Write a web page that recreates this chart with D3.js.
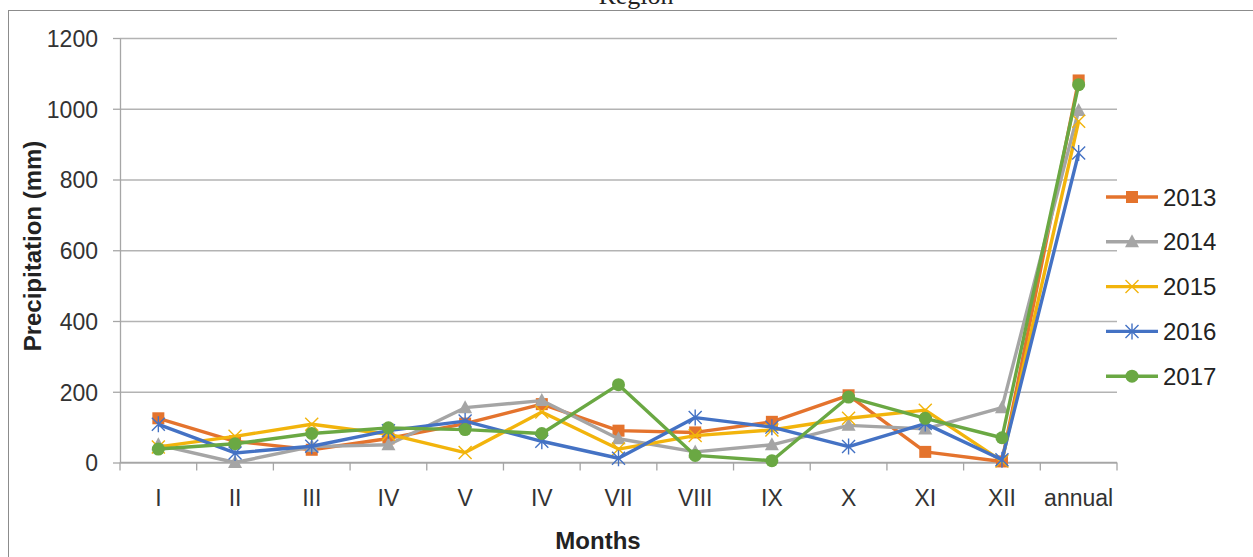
<!DOCTYPE html>
<html>
<head>
<meta charset="utf-8">
<script src="https://cdn.jsdelivr.net/npm/d3@7"></script>
<style>
  body { margin: 0; background: #fff; }
  text { font-family: "Liberation Sans", Arial, sans-serif; }
</style>
</head>
<body>
<svg id="chart"></svg>
<script>
var w = 1253, h = 557;
var margin = { top: 38, right: 136, bottom: 94, left: 120 };

// months on the x axis
var months = ["I", "II", "III", "IV", "V", "IV", "VII", "VIII", "IX", "X", "XI", "XII", "annual"];
var yTicks = [0, 200, 400, 600, 800, 1000, 1200];

// precipitation (mm) per year
var y2013 = [125, 60, 36, 68, 110, 165, 90, 85, 115, 190, 30, 3, 1080];
var y2014 = [50, 0, 45, 50, 155, 175, 67, 30, 50, 105, 95, 155, 995];
var y2015 = [44, 74, 108, 80, 28, 143, 38, 76, 92, 125, 148, 4, 965];
var y2016 = [108, 27, 46, 90, 117, 60, 12, 127, 100, 45, 110, 8, 875];
var y2017 = [38, 53, 82, 98, 93, 82, 220, 20, 5, 185, 125, 70, 1068];

var years = ["2013", "2014", "2015", "2016", "2017"];
var seriesData = [y2013, y2014, y2015, y2016, y2017];
var colors = ["#e4732d", "#a5a5a5", "#f2b40c", "#4472c4", "#6aa843"];
var shapes = ["square", "triangle", "x", "star", "circle"];

var svg = d3.select("#chart").attr("width", w).attr("height", h);

// outer frame (only top/left visible)
svg.append("line").attr("x1", 8).attr("x2", w).attr("y1", 10.5).attr("y2", 10.5)
  .attr("stroke", "#8c8c8c").attr("stroke-width", 1);
svg.append("line").attr("x1", 8.5).attr("x2", 8.5).attr("y1", 10).attr("y2", h)
  .attr("stroke", "#8c8c8c").attr("stroke-width", 1);

// title, cut off at the top like the source
svg.append("text").attr("x", 636).attr("y", 4)
  .attr("text-anchor", "middle")
  .style("font-family", "'Liberation Serif', 'Times New Roman', serif")
  .style("font-size", "26px")
  .attr("fill", "#222")
  .text("Region");

var x = d3.scaleBand()
  .domain(d3.range(months.length))
  .range([margin.left, w - margin.right]);

var y = d3.scaleLinear()
  .domain([0, 1200])
  .range([h - margin.bottom - 0.5, margin.top]);

// grid lines
svg.append("g")
  .attr("class", "grid")
  .attr("transform", "translate(" + margin.left + ",0)")
  .call(d3.axisLeft(y).tickValues(yTicks).tickSize(-(w - margin.right - margin.left)).tickFormat(""))
  .call(g => g.select(".domain").remove())
  .selectAll("line").attr("stroke", "#b3b3b3").attr("stroke-width", 1.3);

// y axis
var yAxis = svg.append("g")
  .attr("transform", "translate(" + margin.left + ",0)")
  .call(d3.axisLeft(y).tickValues(yTicks).tickFormat(d3.format("d"))
    .tickSize(7).tickPadding(15).tickSizeOuter(0));
yAxis.select(".domain").attr("stroke", "#a6a6a6").attr("stroke-width", 1.3);
yAxis.selectAll("line").attr("stroke", "#a6a6a6").attr("stroke-width", 1.3);
yAxis.selectAll("text").style("font-size", "23px").attr("fill", "#333").attr("dy", "0.36em");

// x axis: ticks at band boundaries
var xAxis = svg.append("g")
  .attr("transform", "translate(0," + y(0) + ")");
xAxis.append("line")
  .attr("x1", margin.left).attr("x2", w - margin.right)
  .attr("stroke", "#a6a6a6").attr("stroke-width", 1.3);
xAxis.selectAll(".tk")
  .data(d3.range(months.length + 1))
  .enter().append("line")
  .attr("class", "tk")
  .attr("x1", d => margin.left + d * x.bandwidth())
  .attr("x2", d => margin.left + d * x.bandwidth())
  .attr("y1", 0).attr("y2", 8)
  .attr("stroke", "#a6a6a6").attr("stroke-width", 1.3);
xAxis.selectAll(".lbl")
  .data(months)
  .enter().append("text")
  .attr("class", "lbl")
  .attr("x", (d, i) => x(i) + x.bandwidth() / 2)
  .attr("y", 43)
  .attr("text-anchor", "middle")
  .style("font-size", "23px")
  .attr("fill", "#333")
  .text(d => d);

// axis titles
svg.append("text")
  .attr("transform", "translate(41,246) rotate(-90)")
  .attr("text-anchor", "middle")
  .style("font-size", "24px")
  .style("font-weight", "bold")
  .attr("fill", "#222")
  .text("Precipitation (mm)");

svg.append("text")
  .attr("x", 598).attr("y", 549)
  .attr("text-anchor", "middle")
  .style("font-size", "24px")
  .style("font-weight", "bold")
  .attr("fill", "#222")
  .text("Months");

function drawMarker(g, shape, color) {
  if (shape === "square") {
    g.append("rect").attr("x", -6).attr("y", -6).attr("width", 12).attr("height", 12).attr("fill", color);
  } else if (shape === "triangle") {
    g.append("path").attr("d", "M0,-7.5 L7,5.5 L-7,5.5 Z").attr("fill", color);
  } else if (shape === "x") {
    g.append("path").attr("d", "M-6.5,-6.5 L6.5,6.5 M-6.5,6.5 L6.5,-6.5").attr("stroke", color).attr("stroke-width", 1.4);
  } else if (shape === "star") {
    g.append("path").attr("d", "M-6.5,-6.5 L6.5,6.5 M-6.5,6.5 L6.5,-6.5 M0,-8 L0,8").attr("stroke", color).attr("stroke-width", 1.4);
  } else {
    g.append("circle").attr("r", 6.5).attr("fill", color);
  }
}

var line = d3.line()
  .x((d, i) => x(i) + x.bandwidth() / 2)
  .y(d => y(d));

seriesData.forEach(function(vals, s) {
  svg.append("path")
    .datum(vals)
    .attr("d", line)
    .attr("fill", "none")
    .attr("stroke", colors[s])
    .attr("stroke-width", 3.4)
    .attr("stroke-linejoin", "round");
  vals.forEach(function(v, i) {
    var g = svg.append("g")
      .attr("transform", "translate(" + (x(i) + x.bandwidth() / 2) + "," + y(v) + ")");
    drawMarker(g, shapes[s], colors[s]);
  });
});

// legend
var legend = svg.append("g").attr("transform", "translate(1106,197)");
years.forEach(function(yr, s) {
  var g = legend.append("g").attr("transform", "translate(0," + s * 44.8 + ")");
  g.append("line").attr("x1", 0).attr("x2", 52).attr("stroke", colors[s]).attr("stroke-width", 3.4);
  var m = g.append("g").attr("transform", "translate(26,0)");
  drawMarker(m, shapes[s], colors[s]);
  g.append("text").attr("x", 57).attr("dy", "0.36em")
    .style("font-size", "24px").attr("fill", "#222").text(yr);
});
</script>
</body>
</html>
